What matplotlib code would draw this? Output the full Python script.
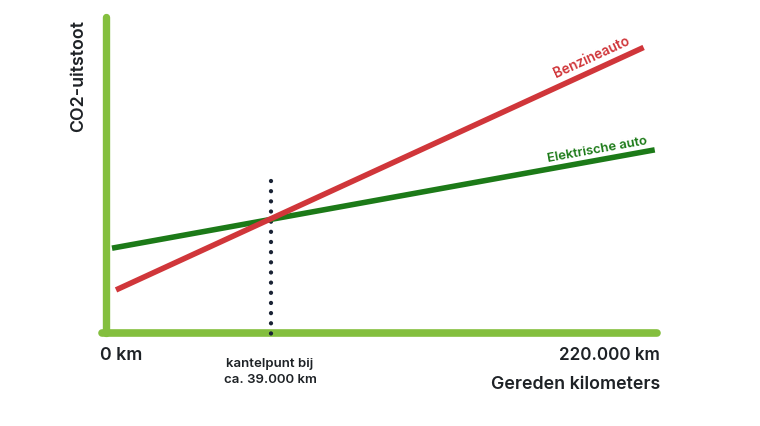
import matplotlib
matplotlib.use("Agg")
import matplotlib.pyplot as plt

plt.rcParams["font.family"] = ["Inter", "DejaVu Sans"]

# schematische eenheden: x 0..1 = 0..220.000 km, y 0..1 = CO2 (relatief)
benzine_x = [0.023, 0.98]
benzine_y = [0.14, 0.9]
elektrisch_x = [0.016, 1.0]
elektrisch_y = [0.27, 0.578]
kantelpunt_x = [0.302, 0.302]
kantelpunt_y = [0.48, -0.032]

as_groen = "#84bf3e"
rood = "#d0363a"
donkergroen = "#1c7a18"
tekst = "#1e2226"

fig = plt.figure(figsize=(7.6, 4.27), dpi=100)
ax = fig.add_axes([106 / 760, (427 - 334) / 427, 546 / 760, 316 / 427])
ax.set_xlim(0, 1)
ax.set_ylim(0, 1)
ax.axis("off")

# assen
ax.plot([0, 0], [1.0, 0], color=as_groen, lw=5.3, solid_capstyle="round", clip_on=False)
ax.plot([-0.007, 1.01], [0, 0], color=as_groen, lw=5.5, solid_capstyle="round", clip_on=False)

ax.plot(kantelpunt_x, kantelpunt_y, color="#1a2335", lw=3.1,
        linestyle=(0, (0.01, 2.35)), dash_capstyle="round", clip_on=False, zorder=3)
ax.plot(elektrisch_x, elektrisch_y, color=donkergroen, lw=4, clip_on=False, zorder=4)
ax.plot(benzine_x, benzine_y, color=rood, lw=4, clip_on=False, zorder=5)

ax.text(0.89, 0.875, "Benzineauto", color=rood, fontsize=9.8, fontweight="semibold",
        rotation=24.6, rotation_mode="anchor", ha="center", va="center")
ax.text(0.9, 0.583, "Elektrische auto", color=donkergroen, fontsize=9.4, fontweight="semibold",
        rotation=10.2, rotation_mode="anchor", ha="center", va="center")

fig.text(79 / 760, 1 - 76 / 427, "CO2-uitstoot", rotation=90, fontsize=12.8,
         fontweight="semibold", color=tekst, ha="center", va="center")
fig.text(100 / 760, 1 - 356 / 427, "0 km", fontsize=12.8, fontweight="semibold",
         color=tekst, ha="left", va="center")
fig.text(660 / 760, 1 - 356 / 427, "220.000 km", fontsize=12.3, fontweight="semibold",
         color=tekst, ha="right", va="center")
fig.text(660 / 760, 1 - 385 / 427, "Gereden kilometers", fontsize=12.8, fontweight="semibold",
         color=tekst, ha="right", va="center")
fig.text(270 / 760, 1 - 372 / 427, "kantelpunt bij\nca. 39.000 km", fontsize=9.5,
         fontweight="semibold", color=tekst, ha="center", va="center", linespacing=1.45)

fig.savefig("out.png", dpi=100, facecolor="white")
